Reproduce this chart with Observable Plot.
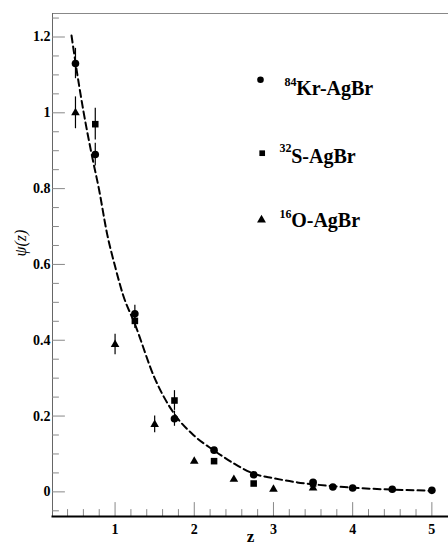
<!DOCTYPE html>
<html>
<head>
<meta charset="utf-8">
<script src="https://cdn.jsdelivr.net/npm/d3@7"></script>
<script src="https://cdn.jsdelivr.net/npm/@observablehq/plot@0.6"></script>
<style>
  html, body { margin: 0; padding: 0; background: white; }
</style>
</head>
<body>
<div id="chart"></div>
<script>
// ---- data ----
const krZ   = [0.5, 0.75, 1.25, 1.75, 2.25, 2.75, 3.5, 3.75, 4.0, 4.5, 5.0];
const krPsi = [1.13, 0.89, 0.47, 0.193, 0.11, 0.045, 0.025, 0.013, 0.01, 0.007, 0.004];
const krErr = [0.04, 0.03, 0.022, 0.02, 0.006, 0.005, 0.004, 0.003, 0.003, 0.002, 0.002];

const sZ   = [0.75, 1.25, 1.75, 2.25, 2.75, 3.5];
const sPsi = [0.97, 0.451, 0.241, 0.081, 0.022, 0.022];
const sErr = [0.042, 0.02, 0.026, 0.006, 0.004, 0.004];

const oZ   = [0.5, 1.0, 1.5, 2.0, 2.5, 3.0, 3.5];
const oPsi = [1.0, 0.389, 0.178, 0.081, 0.033, 0.007, 0.01];
const oErr = [0.042, 0.027, 0.022, 0.006, 0.005, 0.003, 0.003];

const fitZ   = [0.45, 0.5, 0.6, 0.7, 0.8, 0.9, 1.0, 1.1, 1.25, 1.5, 1.75, 2.0, 2.25, 2.5, 2.75, 3.0, 3.3, 3.5, 4.0, 4.5, 5.0];
const fitPsi = [1.204, 1.133, 1.005, 0.895, 0.795, 0.68, 0.595, 0.52, 0.443, 0.30, 0.205, 0.148, 0.109, 0.075, 0.048, 0.036, 0.025, 0.02, 0.011, 0.006, 0.003];

const xDomain = [0.21, 5.21];
const yDomain = [-0.065, 1.262];
const xMajorTicks = [1, 2, 3, 4, 5];
const xMinorTicks = [0.4, 0.6, 0.8, 1.2, 1.4, 1.6, 1.8, 2.2, 2.4, 2.6, 2.8, 3.2, 3.4, 3.6, 3.8, 4.2, 4.4, 4.6, 4.8];
const yMajorTicks = [0, 0.2, 0.4, 0.6, 0.8, 1.0, 1.2];
const yMinorTicks = [-0.05, 0.05, 0.1, 0.15, 0.25, 0.3, 0.35, 0.45, 0.5, 0.55, 0.65, 0.7, 0.75, 0.85, 0.9, 0.95, 1.05, 1.1, 1.15, 1.25];

const legendMass  = ["84", "32", "16"];
const legendLabel = ["Kr-AgBr", "S-AgBr", "O-AgBr"];
const legendSymbol = ["circle", "square", "triangle"];

// ---- tables ----
const toRows = (zs, ps, es) => zs.map((z, i) => ({z, psi: ps[i], err: es[i]}));
const kr = toRows(krZ, krPsi, krErr);
const s  = toRows(sZ, sPsi, sErr);
const o  = toRows(oZ, oPsi, oErr);
const fit = fitZ.map((z, i) => ({z, psi: fitPsi[i]}));

const tickShape = { draw(context, l) { context.moveTo(0, 0); context.lineTo(0, -l); } };
const serif = "'Liberation Serif', 'DejaVu Serif', serif";

// legend layout (pixel offsets from top-left of the frame)
const legendPos = [
  {dot: [208, 66.3], sup: [232, 68.2], main: [243.7, 74.6], r: 3.3},
  {dot: [209.7, 139.7], sup: [227, 134.5], main: [238.7, 143.3], r: 3.2},
  {dot: [209, 206.5], sup: [227, 200.2], main: [238.7, 207.3], r: 3.3}
];
const legendMarks = legendLabel.flatMap((lab, i) => [
  Plot.dot([0], {frameAnchor: "top-left", dx: legendPos[i].dot[0], dy: legendPos[i].dot[1],
    r: legendPos[i].r, symbol: legendSymbol[i], fill: "black", stroke: "none"}),
  Plot.text([legendMass[i]], {frameAnchor: "top-left", dx: legendPos[i].sup[0], dy: legendPos[i].sup[1],
    text: d => d, textAnchor: "start", lineAnchor: "middle", fontSize: 12, fontWeight: "bold", fontFamily: serif}),
  Plot.text([lab], {frameAnchor: "top-left", dx: legendPos[i].main[0], dy: legendPos[i].main[1],
    text: d => d, textAnchor: "start", lineAnchor: "middle", fontSize: 20, fontWeight: "bold", fontFamily: serif})
]);

const chart = Plot.plot({
  width: 448,
  height: 546,
  marginLeft: 52,
  marginRight: 0,
  marginTop: 13,
  marginBottom: 30,
  style: {fontFamily: serif, fontSize: "14px", background: "white", color: "black", overflow: "visible"},
  x: {domain: xDomain},
  y: {domain: yDomain},
  marks: [
    Plot.frame({anchor: "top", stroke: "#888"}),
    Plot.frame({anchor: "left", stroke: "#666"}),
    // ticks (inside)
    Plot.vector(yMajorTicks, {y: d => d, frameAnchor: "left", length: 12, rotate: 90, anchor: "start", shape: tickShape, stroke: "#888", strokeWidth: 1}),
    Plot.vector(yMinorTicks, {y: d => d, frameAnchor: "left", length: 6, rotate: 90, anchor: "start", shape: tickShape, stroke: "#888", strokeWidth: 1}),
    Plot.vector(xMajorTicks, {x: d => d, frameAnchor: "bottom", length: 14, rotate: 0, anchor: "start", shape: tickShape, stroke: "#888", strokeWidth: 1}),
    Plot.vector(xMinorTicks, {x: d => d, frameAnchor: "bottom", length: 7, rotate: 0, anchor: "start", shape: tickShape, stroke: "#888", strokeWidth: 1}),
    Plot.frame({anchor: "bottom", stroke: "black", strokeWidth: 2}),
    Plot.axisY({ticks: yMajorTicks, tickSize: 0, tickPadding: 2, label: null, fontWeight: "bold", fontSize: 14, tickFormat: d3.format("")}),
    Plot.axisX({ticks: xMajorTicks, tickSize: 0, tickPadding: 8, label: null, fontWeight: "bold", fontSize: 14, tickFormat: d3.format("")}),
    Plot.text(["ψ(z)"], {frameAnchor: "left", dx: -32, dy: -8.5, rotate: -90, text: d => d, fontStyle: "italic", fontSize: 16, fontFamily: serif}),
    Plot.text(["z"], {frameAnchor: "bottom", dy: 25.7, text: d => d, fontWeight: "bold", fontSize: 17, fontFamily: serif}),
    // fit curve
    Plot.line(fit, {x: "z", y: "psi", curve: "monotone-x", stroke: "black", strokeWidth: 2, strokeDasharray: "7,4"}),
    // error bars
    Plot.ruleX(kr, {x: "z", y1: d => d.psi - d.err, y2: d => d.psi + d.err, stroke: "black", strokeWidth: 1.2}),
    Plot.ruleX(s, {x: "z", y1: d => d.psi - d.err, y2: d => d.psi + d.err, stroke: "black", strokeWidth: 1.2}),
    Plot.ruleX(o, {x: "z", y1: d => d.psi - d.err, y2: d => d.psi + d.err, stroke: "black", strokeWidth: 1.2}),
    // points
    Plot.dot(o, {x: "z", y: "psi", r: 3.2, symbol: "triangle", fill: "black", stroke: "none"}),
    Plot.dot(s, {x: "z", y: "psi", r: 3.7, symbol: "square", fill: "black", stroke: "none"}),
    Plot.dot(kr, {x: "z", y: "psi", r: 3.8, symbol: "circle", fill: "black", stroke: "none"}),
    ...legendMarks
  ]
});
document.getElementById("chart").appendChild(chart);
</script>
</body>
</html>
